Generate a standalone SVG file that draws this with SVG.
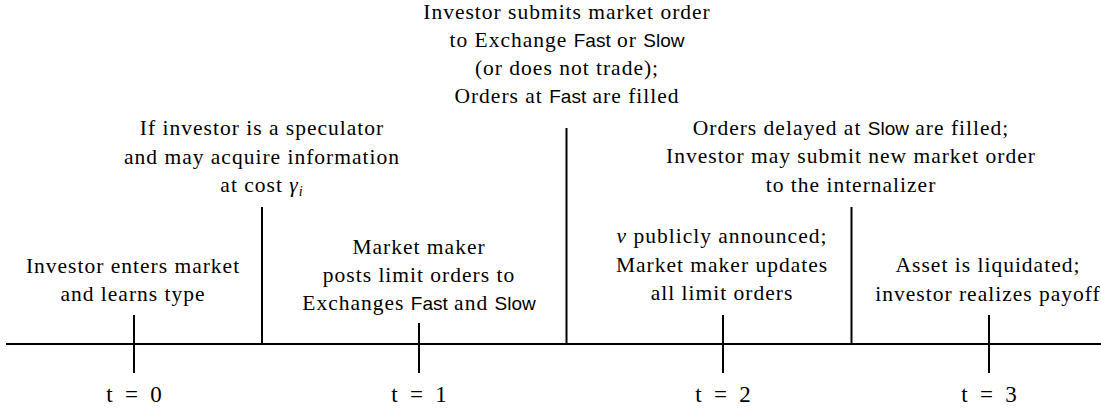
<svg xmlns="http://www.w3.org/2000/svg" width="1101" height="411" viewBox="0 0 1101 411">
<style>
text{font-family:"Liberation Serif","Times New Roman",serif;font-size:21.5px;letter-spacing:1px;fill:#000;text-anchor:middle}
.sf{font-family:"Liberation Sans",Arial,sans-serif;font-size:19px;letter-spacing:0}
.it{font-style:italic}
.lbl{font-size:23px;letter-spacing:0;word-spacing:6.5px}
line{stroke:#000;stroke-width:2;stroke-linecap:butt}
</style>
<rect width="1101" height="411" fill="#fff"/>
<g id="connectors">
<line x1="6" y1="344" x2="1101" y2="344"/>
<line x1="134" y1="315" x2="134" y2="373"/>
<line x1="419" y1="323" x2="419" y2="373"/>
<line x1="723" y1="315" x2="723" y2="373"/>
<line x1="989" y1="315" x2="989" y2="373"/>
<line x1="262" y1="207" x2="262" y2="344"/>
<line x1="566.5" y1="128" x2="566.5" y2="344"/>
<line x1="851.5" y1="207" x2="851.5" y2="344"/>
</g>
<g id="n0">
<text x="133" y="272.5">Investor enters market</text>
<text x="133" y="301">and learns type</text>
</g>
<g id="n1">
<text x="262" y="135">If investor is a speculator</text>
<text x="262" y="163.5">and may acquire information</text>
<text x="262" y="192">at cost <tspan class="it">γ</tspan><tspan class="it" font-size="14" dy="4">i</tspan></text>
</g>
<g id="n2">
<text x="567" y="18.5">Investor submits market order</text>
<text x="567" y="46.7">to Exchange <tspan class="sf">Fast</tspan> or <tspan class="sf">Slow</tspan></text>
<text x="567" y="74.8">(or does not trade);</text>
<text x="567" y="103">Orders at <tspan class="sf">Fast</tspan> are filled</text>
</g>
<g id="n3">
<text x="419" y="253.5">Market maker</text>
<text x="419" y="281.7">posts limit orders to</text>
<text x="419" y="310">Exchanges <tspan class="sf">Fast</tspan> and <tspan class="sf">Slow</tspan></text>
</g>
<g id="n4">
<text x="722" y="243"><tspan class="it">v</tspan> publicly announced;</text>
<text x="722" y="271.5">Market maker updates</text>
<text x="722" y="300">all limit orders</text>
</g>
<g id="n5">
<text x="851" y="134.5">Orders delayed at <tspan class="sf">Slow</tspan> are filled;</text>
<text x="851" y="163">Investor may submit new market order</text>
<text x="851" y="191.5">to the internalizer</text>
</g>
<g id="n6">
<text x="988" y="272">Asset is liquidated;</text>
<text x="988" y="300.5">investor realizes payoff</text>
</g>
<g id="labels">
<text class="lbl" x="134" y="402">t = 0</text>
<text class="lbl" x="419" y="402">t = 1</text>
<text class="lbl" x="723" y="402">t = 2</text>
<text class="lbl" x="989" y="402">t = 3</text>
</g>
</svg>
